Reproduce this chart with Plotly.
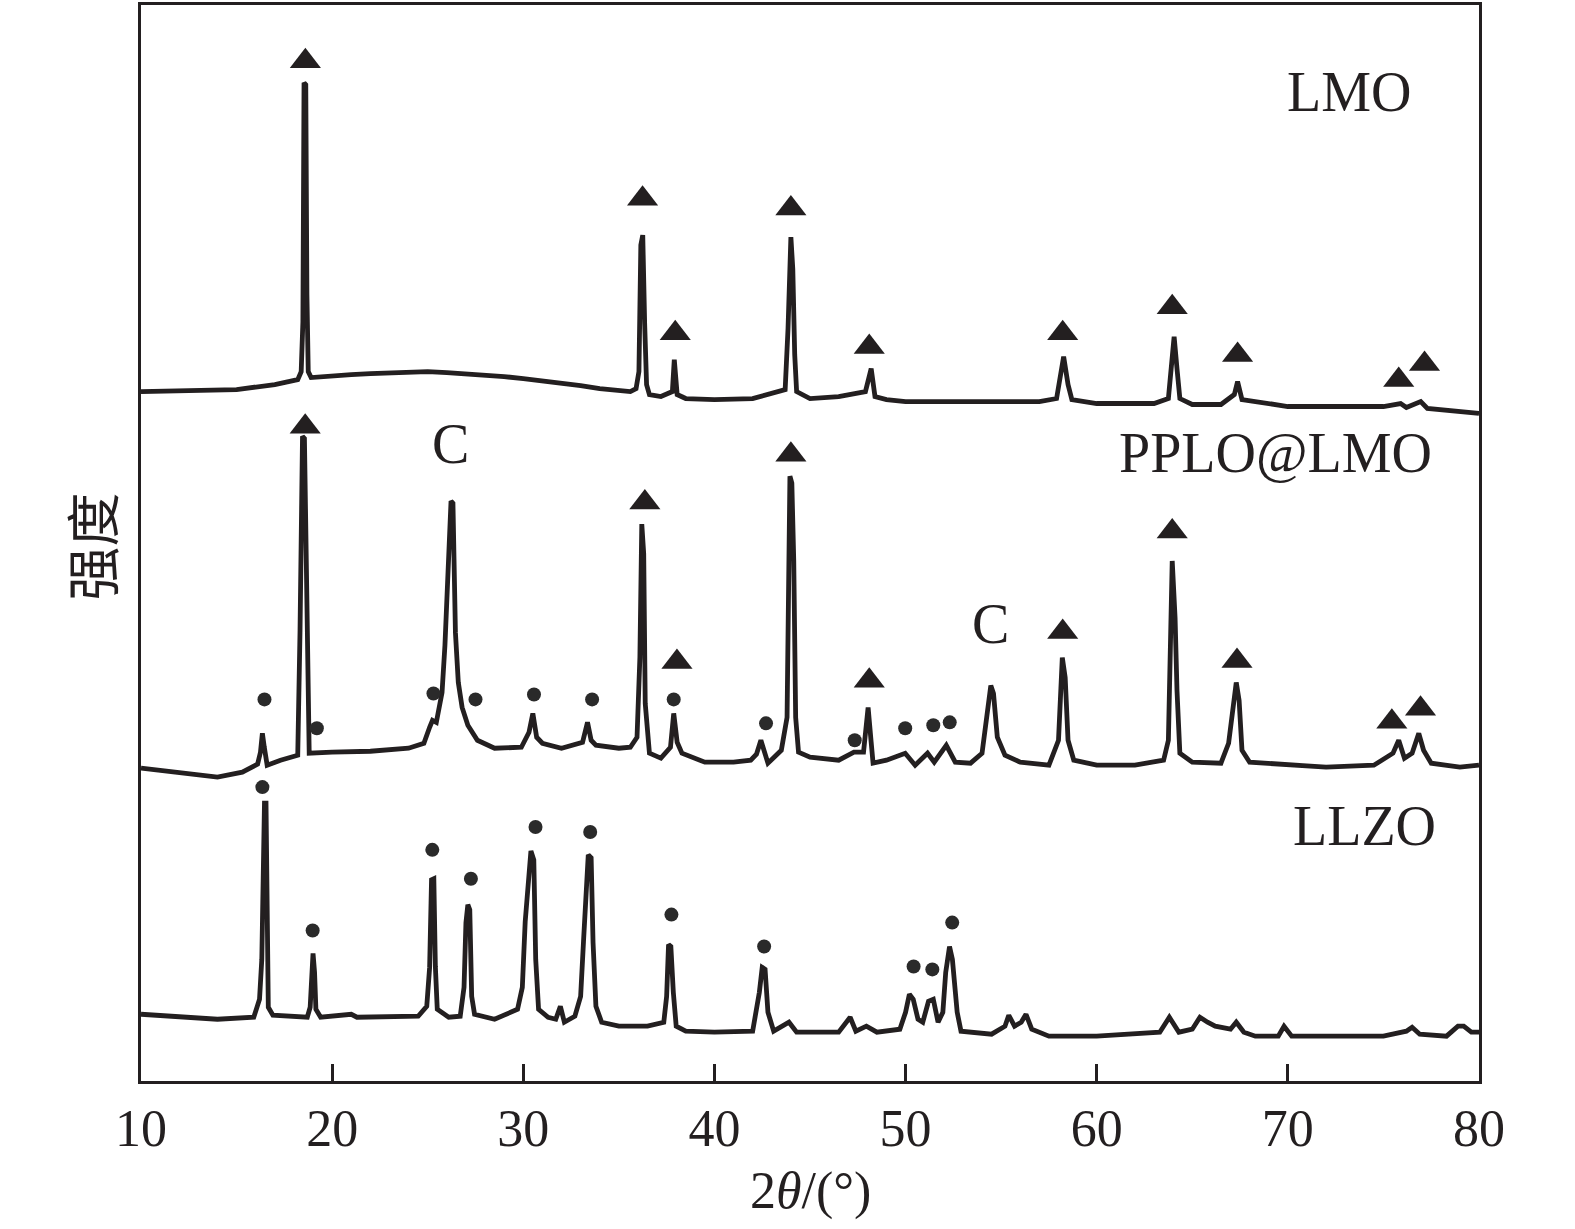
import plotly.graph_objects as go

# ---------------- data (2θ in degrees, intensity in a.u., curves stacked) ----------------
lmo_x = [10, 13, 15, 17, 18.2, 18.38, 18.47, 18.53, 18.62, 18.68, 18.75, 18.9, 20, 21, 22, 23, 24, 25, 26,
         27, 28, 29, 30, 31, 32, 33, 34,
         35.6, 35.9, 36.05, 36.15, 36.25, 36.35, 36.45, 36.6, 37.2, 37.8, 37.9, 38.05, 38.5, 40, 42, 43.7,
         43.85, 44.0, 44.1, 44.2, 44.3, 45, 46.5, 47.9, 48.2, 48.4, 49, 50, 57, 57.9, 58.27, 58.5, 58.7, 60,
         63, 63.75, 64.05, 64.2, 64.35, 65, 66.5, 67.2, 67.37, 67.6, 70, 75, 75.9, 76.2, 76.95, 77.3, 79, 80]
lmo_y = [692, 693, 694, 699, 704, 712, 762, 1002, 1000, 790, 712, 706, 708, 709, 710, 711, 712, 712, 711,
         710, 709, 707, 705, 703, 701, 698, 695,
         692, 695, 712, 839, 849, 760, 699, 689, 687, 692, 724, 689, 685, 684, 685, 694,
         755, 847, 815, 729, 692, 685, 687, 692, 715, 687, 684, 682, 682, 685, 727, 699, 684, 680,
         680, 685, 747, 715, 685, 679, 679, 689, 702, 684, 677, 677, 680, 676, 682, 675, 672, 670]

pplo_x = [10, 12, 14, 15.3, 16.1, 16.25, 16.35, 16.45, 16.6, 17.3, 18.2, 18.32, 18.45, 18.55, 18.67, 18.72,
          18.8, 20, 22, 24, 24.8, 25.1, 25.25, 25.45, 25.75, 25.9, 26.1, 26.22, 26.32, 26.45, 26.6, 26.8,
          27.1, 27.6, 28.5, 29.2, 29.9, 30.3, 30.5, 30.7, 31.0, 32.0, 33.1, 33.36, 33.55, 33.8, 35.0, 35.6,
          35.95, 36.1, 36.2, 36.3, 36.38, 36.6, 37.2, 37.7, 37.87, 38.05, 38.3, 39.5, 41.0, 41.9, 42.2,
          42.43, 42.6, 42.8, 43.5, 43.8, 43.95, 44.05, 44.15, 44.25, 44.4, 45, 46.5, 47.3, 47.8, 48.04,
          48.2, 48.3, 49.0, 49.98, 50.5, 51.15, 51.5, 52.13, 52.6, 53.4, 54.0, 54.2, 54.46, 54.6, 54.8,
          55.2, 56.0, 57.5, 58.0, 58.2, 58.35, 58.5, 58.8, 60, 62, 63.5, 63.75, 63.95, 64.1, 64.2, 64.35,
          65, 66.5, 66.9, 67.3, 67.45, 67.6, 68, 70, 72, 74.5, 75.5, 75.8, 76.1, 76.5, 76.85, 77.1, 77.5,
          79, 80]
pplo_y = [314, 310, 305, 310, 318, 330, 349, 335, 317, 322, 327, 452, 647, 645, 497, 370,
          329, 330, 331, 334, 339, 355, 362, 360, 390, 437, 539, 582, 580, 450, 400, 375,
          357, 342, 334, 335, 335, 350, 369, 345, 339, 334, 340, 360, 342, 337, 334, 335,
          345, 425, 559, 529, 379, 329, 324, 335, 369, 340, 329, 320, 320, 322, 328,
          342, 330, 319, 332, 365, 607, 600, 522, 365, 330, 325, 322, 330, 330, 375,
          340, 319, 322, 329, 317, 329, 320, 337, 320, 319, 329, 355, 397, 389, 345,
          327, 320, 317, 342, 425, 405, 342, 322, 317, 317, 322, 342, 522, 465, 392, 329,
          320, 319, 339, 400, 382, 332, 320, 317, 315, 317, 329, 342, 324, 329, 349, 332, 319,
          315, 317]

llzo_x = [10, 12, 14, 15.9, 16.2, 16.32, 16.4, 16.46, 16.54, 16.6, 16.66, 16.9, 18.7, 18.85, 18.95, 19.0,
          19.08, 19.15, 19.4, 21.0, 21.3, 24.5, 24.95, 25.1, 25.2, 25.32, 25.4, 25.5, 26.1, 26.7, 26.9,
          27.0, 27.1, 27.2, 27.3, 27.45, 28.5, 29.7, 29.95, 30.1, 30.4, 30.55, 30.65, 30.8, 31.3, 31.7,
          31.94, 32.15, 32.7, 33.0, 33.15, 33.4, 33.55, 33.65, 33.8, 34.1, 35.0, 36.5, 37.35, 37.5, 37.6,
          37.72, 37.85, 38.0, 38.5, 40, 42.0, 42.35, 42.5, 42.65, 42.8, 43.1, 43.9, 44.3, 46.5, 47.1, 47.4,
          47.95, 48.5, 49.7, 50.0, 50.2, 50.4, 50.65, 50.9, 51.2, 51.45, 51.7, 51.95, 52.1, 52.3, 52.45,
          52.7, 52.9, 54.5, 55.2, 55.4, 55.7, 56.05, 56.3, 56.6, 57.5, 60, 63.3, 63.8, 64.3, 65.0, 65.4,
          65.8, 66.2, 67.0, 67.3, 67.7, 68.3, 69.5, 69.8, 70.2, 75, 76.2, 76.5, 76.9, 78.3, 78.9, 79.2,
          79.6, 80]
llzo_y = [67, 65, 62, 64, 82, 122, 235, 279, 279, 160, 74, 66, 64, 74, 104, 128,
          109, 72, 64, 67, 64, 65, 75, 114, 202, 203, 115, 72, 64, 65, 94,
          159, 177, 172, 85, 67, 62, 72, 94, 160, 231, 222, 122, 72, 64, 62,
          75, 59, 65, 85, 140, 227, 224, 139, 75, 59, 55, 55, 59, 85, 137,
          135, 89, 55, 50, 49, 50, 89, 114, 112, 69, 50, 59, 49, 49, 64, 50,
          55, 49, 52, 69, 87, 82, 62, 59, 80, 82, 59, 69, 109, 135, 122,
          69, 50, 47, 55, 66, 55, 59, 67, 52, 45, 45, 49, 64, 49, 52, 64,
          59, 55, 52, 59, 49, 45, 45, 55, 45, 45, 50, 54, 47, 45, 55, 55,
          49, 49]

# LiMn2O4 reflections (▲)
tri_x = [18.6, 36.24, 37.95, 44.0, 48.1, 58.22, 63.95, 67.37, 75.8, 77.15,
         18.59, 36.36, 38.04, 44.0, 48.1, 58.22, 63.95, 67.34, 75.44, 76.94]
tri_y = [1027, 889, 754, 879, 740, 754, 780, 732, 707, 723,
         660, 584, 424, 632, 405, 454, 555, 425, 364, 377]

# LLZO reflections (●)
dot_x = [16.46, 19.2, 25.3, 27.5, 30.56, 33.6, 37.87, 42.7, 47.34, 49.98, 51.45, 52.31,
         16.35, 18.98, 25.24, 27.26, 30.64, 33.5, 37.75, 42.6, 50.42, 51.4, 52.44]
dot_y = [383, 354, 389, 383, 388, 383, 383, 359, 342, 354, 357, 360,
         295, 151, 232, 203, 255, 250, 167, 135, 115, 112, 159]

# carbon reflections
c_x = [26.2, 54.46]
c_y = [639, 459]

# curve labels
lab_text = ["LMO", "PPLO@LMO", "LLZO"]
lab_x = [73.2, 69.37, 74.0]
lab_y = [993, 630, 256]

x_ticks = [10, 20, 30, 40, 50, 60, 70, 80]

# ---------------- figure ----------------
INK = "#231f20"
SERIF = "Liberation Serif, Times New Roman, serif"
TRI_SIZE = 27
tri_shift = TRI_SIZE / 2 / 4  # triangle-up marker box centre sits r/4 above its anchor

fig = go.Figure()
for xs, ys in [(lmo_x, lmo_y), (pplo_x, pplo_y), (llzo_x, llzo_y)]:
    fig.add_trace(go.Scatter(x=xs, y=ys, mode="lines",
                             line=dict(color=INK, width=4.8), hoverinfo="skip"))

fig.add_trace(go.Scatter(x=tri_x, y=[v - tri_shift for v in tri_y], mode="markers",
                         marker=dict(symbol="triangle-up", size=TRI_SIZE, color=INK,
                                     line=dict(width=0))))
fig.add_trace(go.Scatter(x=dot_x, y=dot_y, mode="markers",
                         marker=dict(symbol="circle", size=14, color="#2a2a2a",
                                     line=dict(width=0))))

for t, xv, yv in zip(["C"] * len(c_x), c_x, c_y):
    fig.add_annotation(x=xv, y=yv, text=t, showarrow=False, xanchor="center", yanchor="middle",
                       font=dict(family=SERIF, size=56, color=INK))
for t, xv, yv in zip(lab_text, lab_x, lab_y):
    fig.add_annotation(x=xv, y=yv, text=t, showarrow=False, xanchor="center", yanchor="middle",
                       font=dict(family=SERIF, size=56, color=INK))

fig.add_annotation(xref="paper", yref="paper", x=0.5, y=-0.102, text="2<i>θ</i>/(°)",
                   showarrow=False, xanchor="center", yanchor="middle",
                   font=dict(family=SERIF, size=52, color=INK))
fig.add_annotation(xref="paper", yref="paper", x=-0.038, y=0.497, text="强度", textangle=-90,
                   showarrow=False, xanchor="center", yanchor="middle",
                   font=dict(family="Noto Sans CJK SC", size=54, color=INK))

fig.update_layout(
    width=1575, height=1229,
    margin=dict(l=141, r=96, t=2, b=148),
    paper_bgcolor="white", plot_bgcolor="white",
    showlegend=False,
    xaxis=dict(range=[10, 80], tickvals=x_ticks, ticktext=[str(v) for v in x_ticks],
               ticks="inside", ticklen=17, tickwidth=3, tickcolor=INK,
               showline=True, linewidth=3, linecolor=INK, mirror=True,
               showgrid=False, zeroline=False,
               tickfont=dict(family=SERIF, size=52, color=INK)),
    yaxis=dict(range=[0, 1080], showticklabels=False, ticks="",
               showline=True, linewidth=3, linecolor=INK, mirror=True,
               showgrid=False, zeroline=False),
)

fig.write_html("out.html", config={"displayModeBar": False},
               post_script="document.body.style.margin='0px';document.body.style.overflow='hidden';")
